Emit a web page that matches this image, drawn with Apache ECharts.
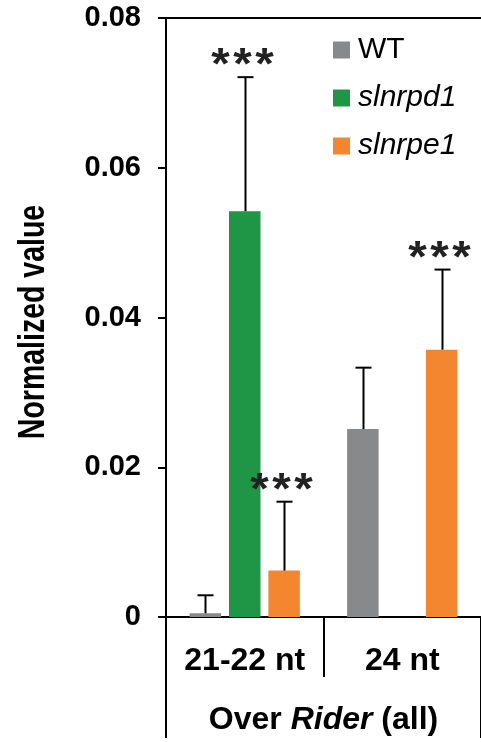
<!DOCTYPE html>
<html>
<head>
<meta charset="utf-8">
<script src="https://cdn.jsdelivr.net/npm/echarts@6/dist/echarts.min.js"></script>
<style>
  html, body { margin: 0; padding: 0; background: #fff; }
  #chart { width: 481px; height: 742px; }
</style>
</head>
<body>
<div id="chart"></div>
<script>
// Small RNA groups on the x axis
const categories = ['21-22 nt', '24 nt'];
const groupLabel = 'Over Rider (all)';
const seriesNames = ['WT', 'slnrpd1', 'slnrpe1'];
const yTitle = 'Normalized value';

// Mean normalized values per group
const wtValues = [0.0005, 0.0251];
const slnrpd1Values = [0.0542, 0];
const slnrpe1Values = [0.0062, 0.0357];

// Upper error (SD) per group
const wtErrors = [0.0024, 0.0082];
const slnrpd1Errors = [0.0179, 0];
const slnrpe1Errors = [0.0092, 0.0107];

// Significance marks per group
const wtSig = ['', ''];
const slnrpd1Sig = ['***', ''];
const slnrpe1Sig = ['***', '***'];

// Y axis ticks
const yMin = 0, yMax = 0.08, yStep = 0.02;

const colors = ['#88898b', '#1e9646', '#f3862e'];
const FONT = '"Liberation Sans", Arial, Helvetica, sans-serif';

const values = [wtValues, slnrpd1Values, slnrpe1Values];
const errors = [wtErrors, slnrpd1Errors, slnrpe1Errors];
const sigs = [wtSig, slnrpd1Sig, slnrpe1Sig];

const CAT_GAP = 0.3, BAR_GAP = 0.25;

// spread the asterisks apart with narrow spacers
function starText(s) {
  return s.split('').map(ch => '{a|' + ch + '}').join('{s| }');
}

function errorSeries(si) {
  return {
    type: 'custom',
    xAxisIndex: 0,
    z: 5,
    silent: true,
    data: categories.map((c, ci) => [ci, values[si][ci], errors[si][ci]]),
    renderItem(params, api) {
      const ci = api.value(0), v = api.value(1), e = api.value(2);
      const band = api.size([1, 0])[0];
      const n = seriesNames.length;
      const barW = band * (1 - CAT_GAP) / (n + (n - 1) * BAR_GAP);
      const off = (si - (n - 1) / 2) * barW * (1 + BAR_GAP);
      const base = api.coord([ci, v]);
      const top = api.coord([ci, v + e]);
      const x = Math.round(base[0] + off) + 0.5;
      const children = [];
      if (e > 0) {
        children.push({ type: 'line', shape: { x1: x, y1: base[1], x2: x, y2: top[1] },
          style: { stroke: '#000', lineWidth: 2 } });
        children.push({ type: 'line', shape: { x1: x - 8, y1: top[1], x2: x + 8, y2: top[1] },
          style: { stroke: '#000', lineWidth: 2 } });
      }
      const s = sigs[si][params.dataIndex];
      if (s) {
        children.push({ type: 'text', x: x - 3, y: top[1] + 12, scaleX: 1.08,
          style: { text: starText(s), fill: '#222',
            textAlign: 'center', textVerticalAlign: 'bottom',
            rich: {
              a: { font: 'bold 44px ' + FONT, fill: '#222', lineHeight: 44 },
              s: { font: 'bold 12px ' + FONT, fill: '#222', lineHeight: 44 }
            } } });
      }
      return { type: 'group', children };
    }
  };
}

const barSeries = seriesNames.map((name, si) => ({
  name,
  type: 'bar',
  data: values[si],
  itemStyle: { color: colors[si] },
  barGap: (BAR_GAP * 100) + '%',
  barCategoryGap: (CAT_GAP * 100) + '%',
  z: 2
}));

const chart = echarts.init(document.getElementById('chart'), null, { renderer: 'canvas' });
chart.setOption({
  animation: false,
  backgroundColor: '#fff',
  color: colors,
  textStyle: { fontFamily: FONT },
  grid: { left: 166, right: -10, top: 18, bottom: 125, containLabel: false },
  graphic: [{
    // condensed vertical axis title
    type: 'text',
    x: 34,
    y: 322,
    rotation: Math.PI / 2,
    scaleX: 0.77,
    style: { text: yTitle, font: 'bold 37px ' + FONT, fill: '#000',
      textAlign: 'center', textVerticalAlign: 'middle' }
  }],
  legend: {
    orient: 'vertical',
    left: 328,
    top: 30,
    itemWidth: 17,
    itemHeight: 17,
    itemGap: 18,
    icon: 'rect',
    data: seriesNames,
    formatter: name => name === 'WT' ? '{n|' + name + '}' : '{i|' + name + '}',
    textStyle: {
      padding: [0, 0, 0, 3],
      rich: {
        n: { fontSize: 30, color: '#000', fontFamily: FONT, lineHeight: 30 },
        i: { fontSize: 30, color: '#000', fontFamily: FONT, fontStyle: 'italic', lineHeight: 30 }
      }
    }
  },
  xAxis: [
    {
      type: 'category',
      data: categories,
      position: 'bottom',
      offset: 0,
      axisLine: { lineStyle: { color: '#000', width: 2 } },
      axisTick: { show: true, length: 60, lineStyle: { color: '#000', width: 2 } },
      axisLabel: { fontSize: 32, fontWeight: 'bold', color: '#000', margin: 28, fontFamily: FONT }
    },
    {
      type: 'category',
      data: [groupLabel],
      position: 'bottom',
      offset: 0,
      axisLine: { show: false },
      axisTick: { show: true, length: 121, lineStyle: { color: '#000', width: 2 } },
      axisLabel: {
        margin: 87,
        formatter: () => '{b|Over }{bi|Rider}{b| (all)}',
        rich: {
          b: { fontSize: 32, fontWeight: 'bold', color: '#000', fontFamily: FONT },
          bi: { fontSize: 32, fontWeight: 'bold', fontStyle: 'italic', color: '#000', fontFamily: FONT }
        }
      }
    },
    {
      type: 'category',
      data: categories,
      position: 'top',
      offset: 0,
      axisLine: { show: true, lineStyle: { color: '#000', width: 2 } },
      axisTick: { show: false },
      axisLabel: { show: false }
    }
  ],
  yAxis: {
    type: 'value',
    min: yMin,
    max: yMax,
    interval: yStep,
    axisLine: { show: true, lineStyle: { color: '#000', width: 2 } },
    axisTick: { show: true, length: 8, lineStyle: { color: '#000', width: 2 } },
    splitLine: { show: false },
    axisLabel: {
      fontSize: 29, fontWeight: 'bold', color: '#000', margin: 25, fontFamily: FONT,
      formatter: v => v === 0 ? '0' : v.toFixed(2)
    }
  },
  series: barSeries.concat(seriesNames.map((_, si) => errorSeries(si)))
});
</script>
</body>
</html>
